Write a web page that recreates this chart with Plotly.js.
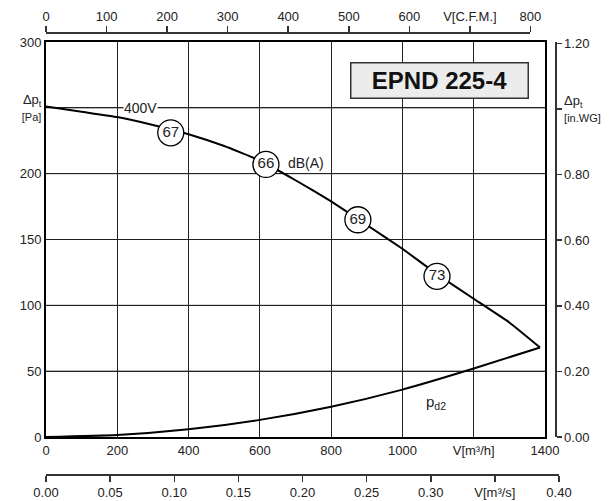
<!DOCTYPE html>
<html>
<head>
<meta charset="utf-8">
<script src="https://cdn.plot.ly/plotly-3.0.1.min.js"></script>
<style>html,body{margin:0;padding:0;background:#fff;}#chart{width:611px;height:501px;}</style>
</head>
<body>
<div id="chart"></div>
<script>
// Fan curve EPND 225-4
const flowM3h   = [0, 100, 200, 300, 400, 500, 600, 700, 800, 900, 1000, 1100, 1200, 1300, 1386];
const pressurePa = [251, 247, 243, 237, 230, 221, 210, 195, 179, 161, 143, 123, 105, 87, 68];
const pd2Flow   = [0, 200, 400, 600, 800, 1000, 1200, 1386];
const pd2Pa     = [0, 1.5, 5.8, 13, 23, 36, 52, 68];
const soundFlow = [350, 617, 875, 1097];
const soundPa   = [231, 207, 165, 122];
const soundLbl  = ['67', '66', '69', '73'];

const m3hTicks = [0, 200, 400, 600, 800, 1000, 1200, 1400];
const m3hText  = ['0', '200', '400', '600', '800', '1000', 'V[m³/h]', '1400'];
const cfmTicks = [0, 100, 200, 300, 400, 500, 600, 700, 800];
const cfmText  = ['0', '100', '200', '300', '400', '500', '600', 'V[C.F.M.]', '800'];
const m3sTicks = [0, 0.05, 0.10, 0.15, 0.20, 0.25, 0.30, 0.35, 0.40];
const m3sText  = ['0.00', '0.05', '0.10', '0.15', '0.20', '0.25', '0.30', 'V[m³/s]', '0.40'];
const paTicks  = [0, 50, 100, 150, 200, 250, 300];
const paText   = ['0', '50', '100', '150', '200',
                  'Δp<sub>t</sub><br><span style="font-size:11px">[Pa]</span>', '300'];
const wgTicks  = [0, 0.2, 0.4, 0.6, 0.8, 1.0, 1.2];
const wgText   = ['0.00', '0.20', '0.40', '0.60', '0.80',
                  'Δp<sub>t</sub><br><span style="font-size:11px">[in.WG]</span>', '1.20'];

const FONT = 'Liberation Sans, Arial, sans-serif';
const TXT = '#222';

const traces = [
  {x: flowM3h, y: pressurePa, mode: 'lines', line: {color: '#000', width: 2, shape: 'spline', smoothing: 0.3}, hoverinfo: 'skip', showlegend: false},
  {x: pd2Flow, y: pd2Pa, mode: 'lines', line: {color: '#000', width: 2, shape: 'spline', smoothing: 0.5}, hoverinfo: 'skip', showlegend: false},
  {x: soundFlow, y: soundPa, mode: 'markers+text', text: soundLbl, textposition: 'middle center',
   textfont: {family: FONT, size: 15, color: TXT},
   marker: {size: 26, color: '#fff', line: {color: '#000', width: 1.3}}, hoverinfo: 'skip', showlegend: false},
  // invisible traces to activate the auxiliary unit axes (kept off the main x/y subplot)
  {x: [0, 800], y: [0, 1.2], xaxis: 'x2', yaxis: 'y2', mode: 'markers', marker: {opacity: 0}, hoverinfo: 'skip', showlegend: false},
  {x: [0, 0.4], y: [0, 1.2], xaxis: 'x3', yaxis: 'y2', mode: 'markers', marker: {opacity: 0}, hoverinfo: 'skip', showlegend: false}
];

const paperW = 513;
const pxPerM3h = 499 / 1400;
const cfmEnd = 800 * 1.69901 * pxPerM3h / paperW;
const wgMax = 300 / 249.089;
const yDom = [37 / 442, 432 / 442];

// horizontal grid lines at the Pa tick values (through the y scale)
const gridShapes = paTicks.slice(1, -1).map(function (v) {
  return {type: 'line', xref: 'x domain', x0: 0, x1: 1, yref: 'y', y0: v, y1: v,
          line: {color: '#222', width: 1}, layer: 'below'};
});

const layout = {
  width: 611, height: 501,
  margin: {l: 46, r: 52, t: 32, b: 27},
  paper_bgcolor: '#fff', plot_bgcolor: 'rgba(0,0,0,0)',
  font: {family: FONT, size: 13, color: TXT},
  showlegend: false,
  xaxis: {
    domain: [0, 499 / paperW], range: [0, 1400], tickvals: m3hTicks, ticktext: m3hText,
    showgrid: true, gridcolor: '#222', zeroline: false,
    showline: true, linecolor: '#000', linewidth: 2, mirror: true,
    tickfont: {size: 13, color: TXT}, anchor: 'y', fixedrange: true
  },
  xaxis2: {
    anchor: 'free', position: 1, side: 'top',
    domain: [0, cfmEnd], range: [0, 800], tickvals: cfmTicks, ticktext: cfmText,
    showgrid: false, zeroline: false, showline: true, linecolor: '#333', linewidth: 1.5,
    ticks: 'outside', ticklen: 6, tickcolor: '#333', tickwidth: 1.5,
    tickfont: {size: 13, color: TXT}, fixedrange: true
  },
  xaxis3: {
    anchor: 'free', position: 0, side: 'bottom',
    domain: [0, 1], range: [0, 0.4], tickvals: m3sTicks, ticktext: m3sText,
    showgrid: false, zeroline: false, showline: true, linecolor: '#333', linewidth: 1.5,
    ticks: 'outside', ticklen: 6, tickcolor: '#333', tickwidth: 1.5,
    tickfont: {size: 13, color: TXT}, fixedrange: true
  },
  yaxis: {
    domain: yDom, range: [0, 300], tickvals: paTicks, ticktext: paText,
    showgrid: true, gridcolor: '#222', zeroline: false,
    showline: true, linecolor: '#000', linewidth: 2, mirror: true,
    tickfont: {size: 13, color: TXT}, anchor: 'x', fixedrange: true
  },
  yaxis2: {
    anchor: 'free', position: (555 - 46) / paperW, side: 'right', domain: yDom,
    range: [0, wgMax], tickvals: wgTicks, ticktext: wgText,
    showgrid: false, zeroline: false, showline: true, linecolor: '#333', linewidth: 1.5,
    ticks: 'outside', ticklen: 5, tickcolor: '#333', tickwidth: 1.5,
    tickfont: {size: 13, color: TXT}, fixedrange: true
  },
  shapes: gridShapes,
  annotations: [
    {xref: 'x', yref: 'y', x: 1103, y: 270.5, text: '<b>EPND 225-4</b>', showarrow: false,
     font: {family: FONT, size: 24, color: '#111'}, bgcolor: '#ececec', bordercolor: '#333', borderwidth: 1.5,
     width: 172, height: 30, borderpad: 2},
    {xref: 'x', yref: 'y', x: 266, y: 250, text: '400V', showarrow: false, bgcolor: '#fff',
     font: {family: FONT, size: 14, color: TXT}, borderpad: 0},
    {xref: 'x', yref: 'y', x: 730, y: 208, text: 'dB(A)', showarrow: false,
     font: {family: FONT, size: 14, color: TXT}},
    {xref: 'x', yref: 'y', x: 1094, y: 26, text: 'p<sub>d2</sub>', showarrow: false,
     font: {family: FONT, size: 15, color: TXT}}
  ]
};

Plotly.newPlot('chart', traces, layout, {displayModeBar: false, staticPlot: true});
</script>
</body>
</html>
